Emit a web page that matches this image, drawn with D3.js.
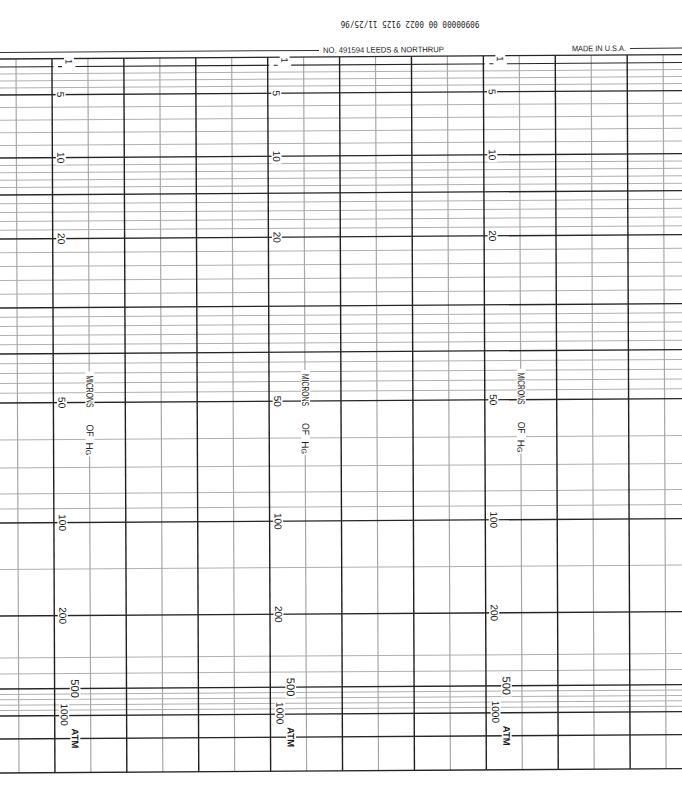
<!DOCTYPE html>
<html><head><meta charset="utf-8">
<script src="https://cdn.jsdelivr.net/npm/d3@7"></script>
<style>html,body{margin:0;padding:0;background:#fff;}svg{display:block}</style>
</head><body>
<script>
// ---------- data ----------
// pressure values (microns of Hg) of the heavy ruled lines
const majorValues = [0, 1, 5, 10, 15, 20, 30, 40, 50, 100, 200, 500, 1000];
// pressure values of the fine ruled lines
const minorValues = [2, 3, 4, 6, 7, 8, 9, 11, 12, 13, 14, 16, 17, 18, 19,
  22, 24, 26, 28, 32, 34, 36, 38, 42, 44, 46, 48, 60, 70, 80, 90,
  150, 300, 400, 600, 700, 800, 900];
// printed scale labels
const labelValues = ["1", "5", "10", "20", "50", "100", "200", "500", "1000", "ATM"];
// calibration of the printed pressure scale (knot pressures)
const calPressure = [0, 1, 5, 10, 15, 20, 30, 40, 50, 60, 70, 80, 90, 100, 200, 300, 400, 500, 1000];
// time divisions across the paper
const timeDivisions = d3.range(0, 19);
const labelColumns = [1, 7, 13];
const headerLeft = "NO. 491594 LEEDS & NORTHRUP";
const headerRight = "MADE IN U.S.A.";
const stampText = "90900000 00 0022 9125 11/25/96";
const unitWords = ["MICRONS", "OF", "H"];

// ---------- layout ----------
const W = 682, H = 802;
const gridTop = 59, gridBottom = 773, atmY = 739;
const skewX = 0.0042, skewY = -0.0065;

const y = d3.scaleLinear()
  .domain(calPressure)
  .range([59, 67, 95, 158, 195, 239, 308, 354, 403, 440, 468, 494, 509, 523, 616, 658, 674, 689, 716]);
const x = d3.scaleLinear().domain([0, 18]).range([16, 16 + 18 * 35.95]);
const yOf = v => v === "ATM" ? atmY : y(+v);

const svg = d3.select("body").append("svg").attr("width", W).attr("height", H);
svg.append("rect").attr("width", W).attr("height", H).attr("fill", "#fff");

// stamp (upside-down)
svg.append("text")
  .attr("transform", "translate(410,23.5) rotate(180)")
  .attr("text-anchor", "middle").attr("dominant-baseline", "central")
  .attr("font-family", "DejaVu Sans Mono").attr("font-size", 9)
  .attr("textLength", 139).attr("lengthAdjust", "spacingAndGlyphs")
  .attr("fill", "#222").text(stampText);

const g = svg.append("g")
  .attr("transform", `matrix(1,${skewY},${skewX},1,${-skewX * gridTop},0)`);

// header rule and text
const headY = 52.5;
g.append("line").attr("x1", 0).attr("x2", 319).attr("y1", headY).attr("y2", headY)
  .attr("stroke", "#333").attr("stroke-width", 1);
g.append("line").attr("x1", 630).attr("x2", W + 10).attr("y1", headY).attr("y2", headY)
  .attr("stroke", "#333").attr("stroke-width", 1);
g.append("text").attr("x", 323).attr("y", headY).attr("dominant-baseline", "central")
  .attr("font-family", "Liberation Sans, Arial").attr("font-size", 8)
  .attr("textLength", 121).attr("lengthAdjust", "spacingAndGlyphs")
  .attr("fill", "#222").text(headerLeft);
g.append("text").attr("x", 572).attr("y", headY).attr("dominant-baseline", "central")
  .attr("font-family", "Liberation Sans, Arial").attr("font-size", 8)
  .attr("textLength", 54).attr("lengthAdjust", "spacingAndGlyphs")
  .attr("fill", "#222").text(headerRight);

// fine horizontal rules
g.append("g").selectAll("line").data(minorValues).join("line")
  .attr("x1", -10).attr("x2", W + 10)
  .attr("y1", d => y(d)).attr("y2", d => y(d))
  .attr("stroke", "#b0b0b0").attr("stroke-width", 1);

// vertical rules
g.append("g").selectAll("line").data(timeDivisions).join("line")
  .attr("x1", d => x(d)).attr("x2", d => x(d))
  .attr("y1", gridTop).attr("y2", gridBottom)
  .attr("stroke", d => d % 2 ? "#1f1f1f" : "#a8a8a8")
  .attr("stroke-width", d => d % 2 ? 1.4 : 1.2);

// heavy horizontal rules
g.append("g").selectAll("line").data(majorValues.concat(["ATM"])).join("line")
  .attr("x1", -10).attr("x2", W + 10)
  .attr("y1", d => yOf(d)).attr("y2", d => yOf(d))
  .attr("stroke", "#262626").attr("stroke-width", d => d === 1 ? 1.1 : 1.35);
g.append("line").attr("x1", -10).attr("x2", W + 10)
  .attr("y1", gridBottom).attr("y2", gridBottom)
  .attr("stroke", "#262626").attr("stroke-width", 1.35);

// labels
const labelStyle = {
  "1": {dx: 17, dy: -5, fs: 9.5, bold: false},
  "500": {dx: 20.5, dy: 0, fs: 11.2, bold: false},
  "1000": {dx: 9.5, dy: -1, fs: 10, bold: false},
  "ATM": {dx: 20.5, dy: 0, fs: 9.5, bold: true}
};
function rotText(parent, cx, cy, str, fs, bold, len) {
  const tg = parent.append("g").attr("transform", `translate(${cx},${cy}) rotate(90)`);
  const bg = tg.append("rect").attr("fill", "#fff");
  const t = tg.append("text").attr("text-anchor", "middle").attr("dominant-baseline", "central")
    .attr("font-family", "Liberation Sans, Arial").attr("font-size", fs)
    .attr("font-weight", bold ? "bold" : "normal").attr("fill", "#1a1a1a").text(str);
  if (len) t.attr("textLength", len).attr("lengthAdjust", "spacingAndGlyphs");
  return {t, bg};
}
function fitBg(o, padX, padY) {
  const b = o.t.node().getBBox();
  o.bg.attr("x", b.x - padX).attr("y", b.y + b.height * 0.12 - padY)
    .attr("width", b.width + 2 * padX).attr("height", b.height * 0.76 + 2 * padY);
}
const lab = g.append("g");
labelColumns.forEach(c => {
  const vx = x(c);
  // units legend mask (interrupts the fine vertical rule)
  const ux = vx + 36.5;
  lab.append("rect").attr("x", ux - 4.5).attr("y", 372).attr("width", 9).attr("height", 85)
    .attr("fill", "#fff");
  // gap in the "1" rule with its short leader dash
  lab.append("rect").attr("x", vx + 1.5).attr("y", y(1) - 1.3).attr("width", 22).attr("height", 2.6)
    .attr("fill", "#fff");
  lab.append("line").attr("x1", vx + 6).attr("x2", vx + 10).attr("y1", y(1)).attr("y2", y(1))
    .attr("stroke", "#262626").attr("stroke-width", 1.1);
  labelValues.forEach(v => {
    const s = labelStyle[v] || {dx: 8.5, dy: 0, fs: 10, bold: false};
    const yy = v === "1" ? y(1) : yOf(v);
    const o = rotText(lab, vx + s.dx, yy + s.dy, v, s.fs, s.bold);
    fitBg(o, 1.5, 0.8);
  });
  rotText(lab, ux, 392, unitWords[0], 10, false, 32);
  rotText(lab, ux, 431, unitWords[1], 10, false, 12);
  const hg = lab.append("g").attr("transform", `translate(${ux},449.5) rotate(90)`);
  const ht = hg.append("text").attr("text-anchor", "middle").attr("dominant-baseline", "central")
    .attr("font-family", "Liberation Sans, Arial").attr("font-size", 10).attr("fill", "#1a1a1a");
  ht.append("tspan").text(unitWords[2]);
  ht.append("tspan").attr("font-size", 7).attr("dy", 1.3).text("G");
});
</script>
</body></html>
